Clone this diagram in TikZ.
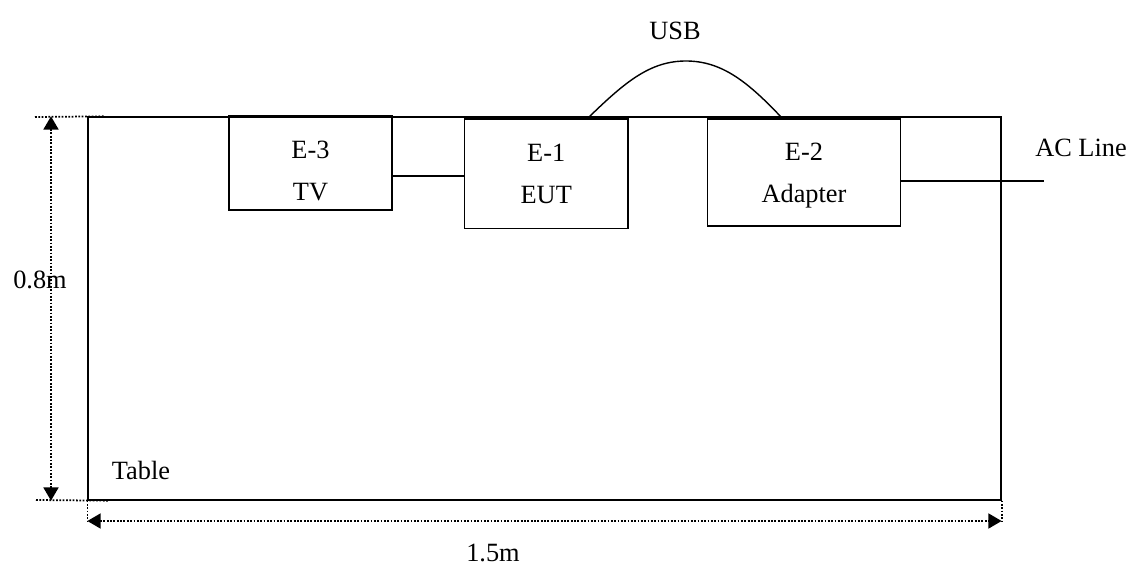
\documentclass[tikz,border=0pt]{standalone}
\usepackage{fontspec}
\setmainfont{Liberation Serif}
\usetikzlibrary{arrows.meta,calc,positioning}

\begin{document}
\begin{tikzpicture}[x=0.02cm,y=-0.02cm,
  unit/.style={draw,line width=0.8pt,inner sep=0pt,align=center,font=\fontsize{15}{24}\selectfont},
  dimline/.style={line width=1pt,dash pattern=on 1pt off 0.9pt},
  dimarrow/.style={dimline,{Triangle[length=7.5pt,width=8.5pt]}-{Triangle[length=7.5pt,width=8.5pt]}},
  lbl/.style={inner sep=0pt,font=\fontsize{15}{18}\selectfont}]
\useasboundingbox (0,0) rectangle (1138,567);
% table
\node[draw,line width=0.8pt,inner sep=0pt,minimum width=18.26cm,minimum height=7.66cm] (table) at (544.5,308.5) {};
\node[lbl] (tablename) at (141,470) {Table};
% units on the table
\node[unit,minimum width=3.26cm,minimum height=1.88cm] (tv) at (310.5,163) {};
\node[unit,draw=none] (tvtext) at ($(tv.center)+(0,8)$) {E-3\\TV};
\node[unit,minimum width=3.27cm,minimum height=2.19cm] (eut) at (546.25,173.8) {E-1\\EUT};
\node[unit,minimum width=3.86cm,minimum height=2.14cm] (adapter) at (804,172.5) {};
\node[unit,draw=none] (adaptertext) at ($(adapter.center)+(0,3)$) {E-2\\Adapter};
% cables
\coordinate (tvlink) at (0,176);
\draw[line width=0.8pt] (tv.east |- tvlink) -- (eut.west |- tvlink);
\coordinate (acend) at (1044,181);
\draw[line width=0.8pt] (adapter.east |- acend) -- (acend);
\node[lbl] (acline) at (1081,148) {AC Line};
\coordinate (usbA) at (588,118);
\coordinate (usbpeak) at (686,61);
\coordinate (usbB) at (782,118);
\draw[line width=0.8pt] (usbA) .. controls (625,82) and (650,61) .. (usbpeak)
  .. controls (722,61) and (748,82) .. (usbB);
\node[lbl] (usb) at (675,31) {USB};
% dimensions
\coordinate (vdim) at (51,0);
\coordinate (hdim) at (0,521);
\coordinate (topext) at (35,117);
\coordinate (botext) at (36,500);
\draw[dimline] (topext) -- ($(table.north west)+(17,0)$);
\draw[dimline] (botext) -- ($(table.south west)+(21,0)$);
\draw[dimarrow] (table.north west -| vdim) -- (table.south west -| vdim);
\draw[dimline] (table.south west) -- (table.south west |- hdim);
\draw[dimline] (table.south east) -- (table.south east |- hdim);
\draw[dimarrow] (table.south west |- hdim) -- (table.south east |- hdim);
\node[lbl] (height) at (40,280) {0.8m};
\node[lbl] (width) at (493,553) {1.5m};
\end{tikzpicture}
\end{document}
